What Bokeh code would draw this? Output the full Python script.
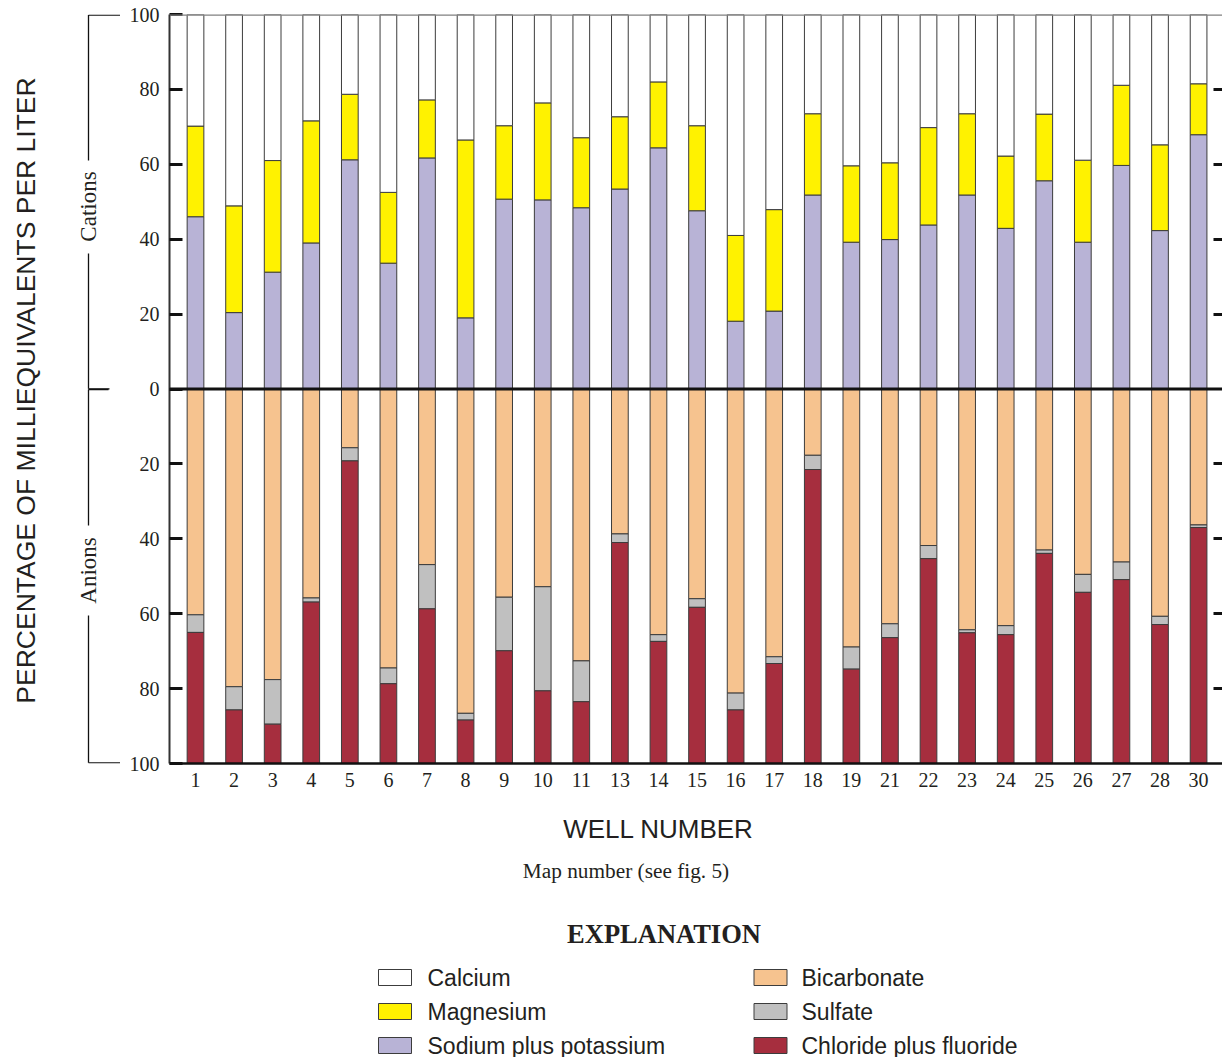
from math import pi
from bokeh.plotting import figure
from bokeh.layouts import column, row
from bokeh.models import Range1d, FixedTicker, LinearAxis, Span, ColumnDataSource
from bokeh.core.properties import value
from bokeh.embed import file_html
from bokeh.resources import INLINE

# ---------------- data (percent of milliequivalents per liter) ----------------
wells = ["1", "2", "3", "4", "5", "6", "7", "8", "9", "10", "11", "13", "14", "15",
         "16", "17", "18", "19", "21", "22", "23", "24", "25", "26", "27", "28", "30"]

sodium_potassium = [46.0, 20.4, 31.2, 39.0, 61.2, 33.6, 61.7, 19.0, 50.7, 50.5, 48.4, 53.4, 64.4, 47.6,
                    18.1, 20.8, 51.8, 39.2, 39.9, 43.8, 51.8, 42.9, 55.6, 39.2, 59.7, 42.3, 67.9]
magnesium = [24.2, 28.5, 29.8, 32.6, 17.5, 18.9, 15.5, 47.5, 19.6, 25.9, 18.7, 19.3, 17.6, 22.7,
             22.9, 27.1, 21.7, 20.4, 20.5, 26.0, 21.7, 19.3, 17.8, 21.9, 21.4, 22.9, 13.6]
calcium = [29.8, 51.1, 39.0, 28.4, 21.3, 47.5, 22.8, 33.5, 29.7, 23.6, 32.9, 27.3, 18.0, 29.7,
           59.0, 52.1, 26.5, 40.4, 39.6, 30.2, 26.5, 37.8, 26.6, 38.9, 18.9, 34.8, 18.5]

bicarbonate = [60.3, 79.5, 77.6, 55.8, 15.7, 74.5, 46.9, 86.6, 55.6, 52.8, 72.6, 38.7, 65.6, 56.0,
               81.2, 71.5, 17.7, 68.9, 62.7, 41.8, 64.3, 63.2, 43.0, 49.5, 46.2, 60.7, 36.3]
sulfate = [4.7, 6.2, 11.9, 1.1, 3.5, 4.2, 11.8, 1.8, 14.3, 27.8, 10.9, 2.3, 1.8, 2.3,
           4.5, 1.8, 3.8, 5.9, 3.7, 3.5, 0.8, 2.4, 0.9, 4.8, 4.7, 2.2, 0.7]
chloride_fluoride = [35.0, 14.3, 10.5, 43.1, 80.8, 21.3, 41.3, 11.6, 30.1, 19.4, 16.5, 59.0, 32.6, 41.7,
                     14.3, 26.7, 78.5, 25.2, 33.6, 54.7, 34.9, 34.4, 56.1, 45.7, 49.1, 37.1, 63.0]

y_ticks = [-100, -80, -60, -40, -20, 0, 20, 40, 60, 80, 100]
inner_ticks = [-80, -60, -40, -20, 20, 40, 60, 80]

anion_names = ["Bicarbonate", "Sulfate", "Chloride plus fluoride"]
cation_colors = ["#b8b3d6", "#fff200", "#ffffff"]   # Na+K, Mg, Ca (bottom to top)
anion_colors = ["#f6c38f", "#c0c0c0", "#a62e3e"]    # HCO3, SO4, Cl+F (top to bottom)

INK = "#231f20"
SERIF = "Liberation Serif"
SANS = "Liberation Sans"

# ---------------- main chart ----------------
xs = list(range(len(wells)))
src = ColumnDataSource(dict(
    x=xs,
    na=sodium_potassium, mg=magnesium, ca=calcium,
    bic=[-v for v in bicarbonate], sul=[-v for v in sulfate], chl=[-v for v in chloride_fluoride],
))

LW = 120
MW, MH = 1102, 800
TOP, BOT = 14, 37          # frame borders (px)
p = figure(width=MW, height=MH, output_backend="svg", toolbar_location=None,
           x_range=Range1d(-0.674, 26.62), y_range=Range1d(-100, 100),
           min_border_left=49, min_border_right=0, min_border_top=TOP, min_border_bottom=BOT,
           x_axis_location=None, y_axis_location=None)
p.grid.visible = False
p.outline_line_color = None
p.background_fill_color = "white"

BW = 0.433
p.vbar_stack(["na", "mg", "ca"], x="x", width=BW, source=src, color=cation_colors,
             line_color="#3c3c3c", line_width=1)
p.vbar_stack(["bic", "sul", "chl"], x="x", width=BW, source=src, color=anion_colors,
             line_color="#3c3c3c", line_width=1)

# x axis (well numbers)
xax = LinearAxis(ticker=FixedTicker(ticks=xs),
                 major_label_overrides={i: w for i, w in enumerate(wells)})
xax.major_tick_in = 0
xax.major_tick_out = 0
xax.minor_tick_line_color = None
xax.axis_line_color = "#111111"
xax.axis_line_width = 2.5
xax.major_label_standoff = 9
xax.major_label_text_font = SERIF
xax.major_label_text_font_size = "20px"
xax.major_label_text_color = INK
p.add_layout(xax, "below")

# left y axis
yax = LinearAxis(ticker=FixedTicker(ticks=y_ticks),
                 major_label_overrides={t: str(abs(t)) for t in y_ticks})
yax.major_tick_in = 13
yax.major_tick_out = 0
yax.major_tick_line_width = 3
yax.major_tick_line_color = "#111111"
yax.minor_tick_line_color = None
yax.axis_line_color = "#333333"
yax.axis_line_width = 2
yax.major_label_standoff = 10
yax.major_label_text_font = SERIF
yax.major_label_text_font_size = "20px"
yax.major_label_text_color = INK
p.add_layout(yax, "left")

# right axis: inward ticks only, no labels
rax = LinearAxis(ticker=FixedTicker(ticks=inner_ticks),
                 major_label_overrides={t: "" for t in inner_ticks})
rax.major_tick_in = 9
rax.major_tick_out = 0
rax.major_tick_line_width = 3
rax.major_tick_line_color = "#111111"
rax.minor_tick_line_color = None
rax.axis_line_color = None
rax.major_label_standoff = 0
p.add_layout(rax, "right")

p.add_layout(Span(location=100, dimension="width", line_color="#808080", line_width=2.5))
p.add_layout(Span(location=0, dimension="width", line_color="#111111", line_width=3))

# ---------------- left annotation panel (page-pixel coordinates) ----------------
# frame shares the main chart's vertical extent, so y range = page pixels of that frame
lf = figure(width=LW, height=MH, output_backend="svg", toolbar_location=None,
            x_range=Range1d(0, LW), y_range=Range1d(MH - BOT, TOP),
            min_border_left=0, min_border_right=0, min_border_top=TOP, min_border_bottom=BOT,
            x_axis_location=None, y_axis_location=None)
lf.grid.visible = False
lf.outline_line_color = None

lf.multi_line(xs=[[88, 88], [88, 88], [88, 120], [88, 109],
                  [88, 88], [88, 88], [88, 108], [88, 120]],
              ys=[[14.6, 160], [253, 388.3], [14.6, 14.6], [388.3, 388.3],
                  [389, 525], [615, 762.3], [389, 389], [762.3, 762.3]],
              line_color="#111111", line_width=1.3)
lf.text(x=[25], y=[390], text=["PERCENTAGE OF MILLIEQUIVALENTS PER LITER"], angle=pi / 2,
        text_align="center", text_baseline="middle", text_font=value(SANS),
        text_font_size="26.5px", text_color=INK)
lf.text(x=[88, 88], y=[206, 570], text=["Cations", "Anions"], angle=pi / 2,
        text_align="center", text_baseline="middle", text_font=value(SERIF),
        text_font_size="23px", text_color=INK)

# ---------------- bottom panel: axis title and explanation ----------------
BWID, BH = LW + MW, 257
bf = figure(width=BWID, height=BH, output_backend="svg", toolbar_location=None,
            x_range=Range1d(0, BWID), y_range=Range1d(BH, 0),
            min_border=0, x_axis_location=None, y_axis_location=None)
bf.grid.visible = False
bf.outline_line_color = None

bf.text(x=[658], y=[28], text=["WELL NUMBER"], text_align="center", text_baseline="middle",
        text_font=value(SANS), text_font_size="26px", text_color=INK)
bf.text(x=[625.5], y=[70], text=["Map number (see fig. 5)"], text_align="center", text_baseline="middle",
        text_font=value(SERIF), text_font_size="21.3px", text_color=INK)
bf.text(x=[663.5], y=[133], text=["EXPLANATION"], text_align="center", text_baseline="middle",
        text_font=value(SERIF), text_font_size="26.5px", text_font_style="bold", text_color=INK)

leg_names = ["Calcium", "Magnesium", "Sodium plus potassium"] + anion_names
leg_colors = ["#ffffff", "#fff200", "#b8b3d6"] + anion_colors
row_y = [177, 211, 245]
box_x = [394.5] * 3 + [770] * 3
box_y = row_y + row_y
txt_x = [427] * 3 + [801] * 3
bf.rect(x=box_x, y=box_y, width=33, height=16, fill_color=leg_colors,
        line_color="#3c3c3c", line_width=1)
bf.text(x=txt_x, y=box_y, text=leg_names, text_align="left", text_baseline="middle",
        text_font=value(SANS), text_font_size="23px", text_color=INK)

layout = column(row(lf, p), bf)
open("out.html", "w").write(file_html(layout, INLINE))
